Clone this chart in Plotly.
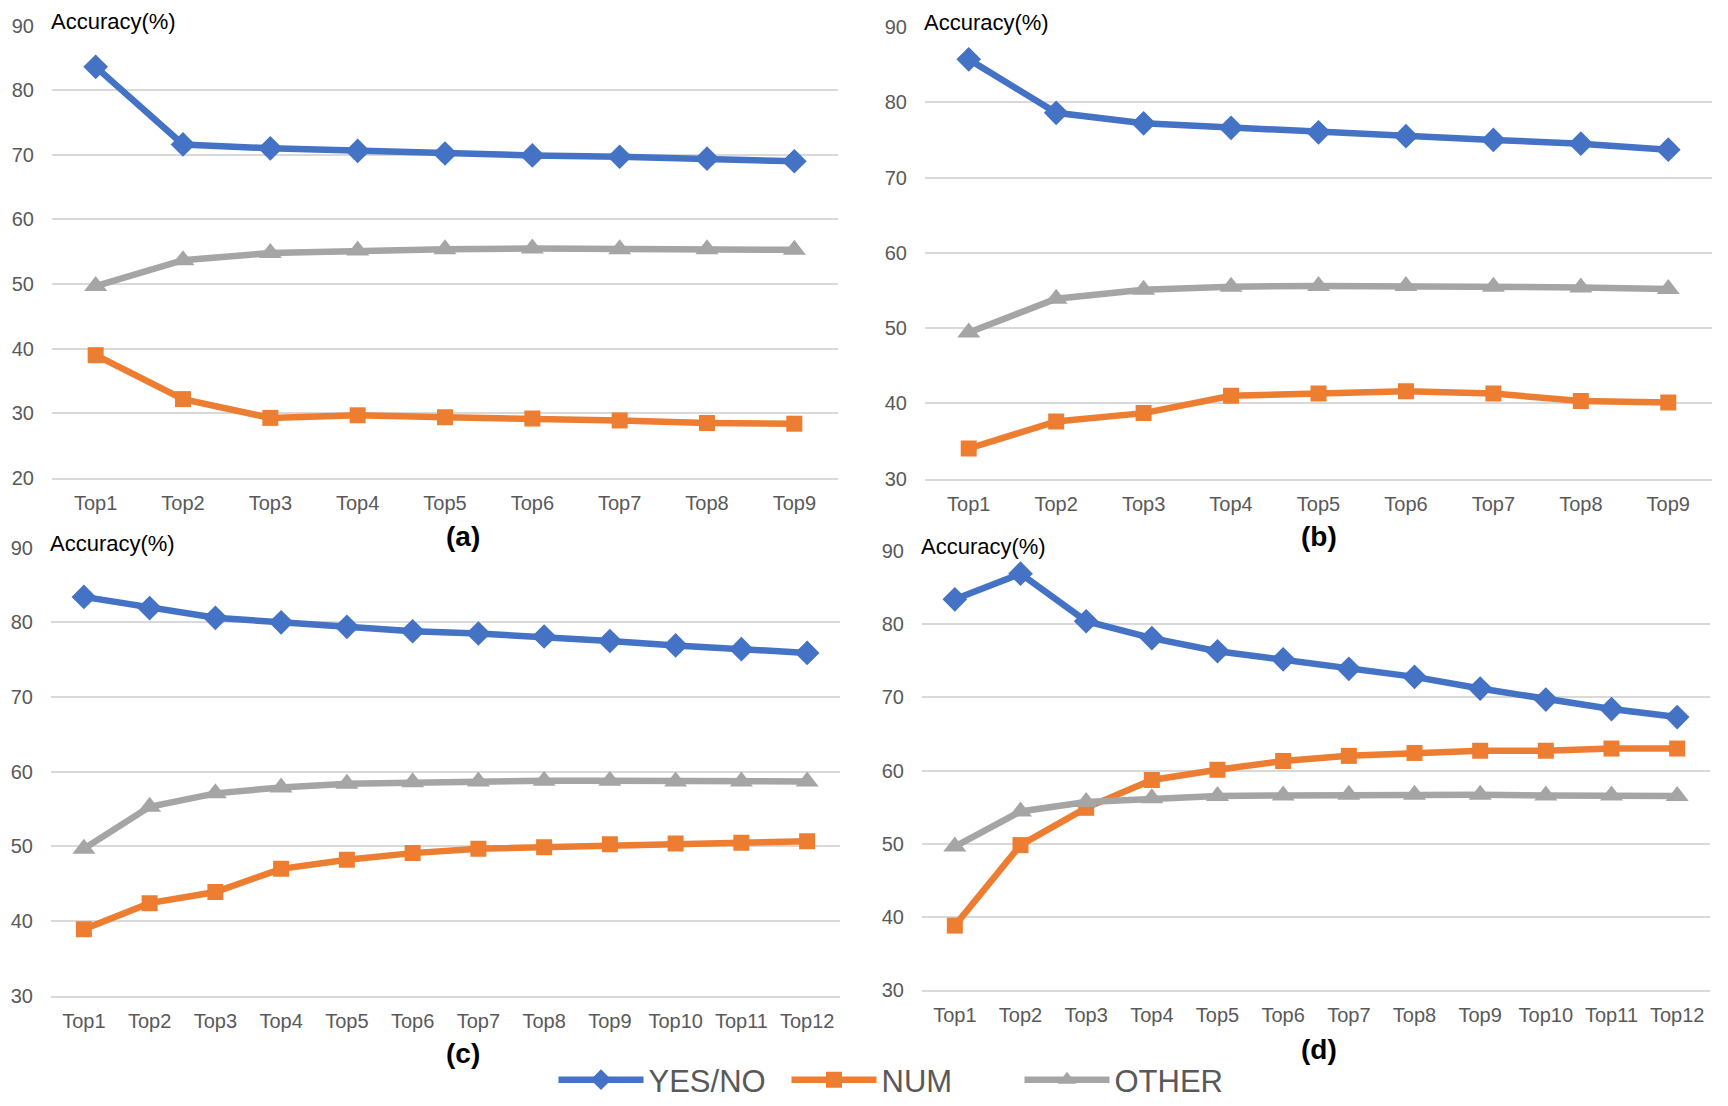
import plotly.graph_objects as go

W, H = 1728, 1106
OFF = 8  # page body margin offset

# ---- data ----
labels9 = ["Top1", "Top2", "Top3", "Top4", "Top5", "Top6", "Top7", "Top8", "Top9"]
labels12 = ["Top1", "Top2", "Top3", "Top4", "Top5", "Top6", "Top7", "Top8", "Top9",
            "Top10", "Top11", "Top12"]

a_yesno = [83.6, 71.6, 71.0, 70.6, 70.2, 69.9, 69.7, 69.4, 69.0]
a_num = [39.0, 32.2, 29.3, 29.7, 29.4, 29.2, 28.9, 28.5, 28.4]
a_other = [49.7, 53.7, 54.8, 55.2, 55.4, 55.5, 55.4, 55.4, 55.3]

b_yesno = [85.7, 78.6, 77.2, 76.6, 76.0, 75.5, 75.0, 74.5, 73.7]
b_num = [34.0, 37.6, 38.7, 41.0, 41.3, 41.6, 41.3, 40.3, 40.1]
b_other = [49.4, 53.9, 55.1, 55.5, 55.6, 55.6, 55.5, 55.4, 55.2]

c_yesno = [83.4, 81.9, 80.6, 80.0, 79.4, 78.8, 78.5, 78.1, 77.5, 76.9, 76.4, 75.9]
c_num = [38.9, 42.4, 43.9, 47.0, 48.2, 49.1, 49.7, 49.9, 50.3, 50.4, 50.5, 50.7]
c_other = [49.7, 55.3, 57.1, 57.9, 58.4, 58.6, 58.7, 58.8, 58.8, 58.7, 58.7, 58.7]

d_yesno = [83.4, 86.9, 80.4, 78.1, 76.3, 75.2, 73.9, 72.8, 71.2, 69.7, 68.4, 67.3]
d_num = [38.8, 49.8, 54.9, 58.7, 60.1, 61.3, 62.0, 62.4, 62.7, 62.7, 63.0, 63.0]
d_other = [49.6, 54.4, 55.7, 56.2, 56.5, 56.6, 56.7, 56.7, 56.7, 56.6, 56.6, 56.5]

series_names = ["YES/NO", "NUM", "OTHER"]
panel_names = ["(a)", "(b)", "(c)", "(d)"]
y_ranges = [[20, 90], [30, 90], [30, 90], [30, 90]]

# ---- styles ----
BLUE, ORANGE, GRAY = "#4472C4", "#ED7D31", "#A5A5A5"
styles = [
    dict(color=BLUE, symbol="diamond", size=19),
    dict(color=ORANGE, symbol="square", size=16),
    dict(color=GRAY, symbol="triangle-up", size=20),
]
FONT = "Liberation Sans, Arial, sans-serif"
TICKC = "#595959"
GRIDC = "#D9D9D9"

panels = [
    (labels9, [a_yesno, a_num, a_other]),
    (labels9, [b_yesno, b_num, b_other]),
    (labels12, [c_yesno, c_num, c_other]),
    (labels12, [d_yesno, d_num, d_other]),
]

# target page-pixel geometry of plot areas: (x0, x1, ytop, ybottom)
geom = [
    (52, 838, 25.5, 478),
    (925, 1712, 27, 478.6),
    (51, 840, 547.6, 995.8),
    (922, 1710, 551, 990),
]
label_pos = [(463, 537), (1319, 537), (463, 1053), (1319, 1049)]


def px(x):
    return (x - OFF) / W


def py(y):
    return 1 - (y - OFF) / H


fig = go.Figure()
for p, (cats, ser) in enumerate(panels):
    sfx = "" if p == 0 else str(p + 1)
    for s, vals in enumerate(ser):
        st = styles[s]
        fig.add_trace(go.Scatter(
            x=cats, y=vals, mode="lines+markers", name=series_names[s],
            line=dict(color=st["color"], width=6.5),
            marker=dict(color=st["color"], symbol=st["symbol"], size=st["size"]),
            xaxis="x" + sfx, yaxis="y" + sfx,
            showlegend=(p == 0), legendgroup=series_names[s],
        ))

layout = dict(
    width=W, height=H,
    margin=dict(l=0, r=0, t=0, b=0, autoexpand=False),
    paper_bgcolor="white", plot_bgcolor="white",
    font=dict(family=FONT, color=TICKC),
    showlegend=True,
    legend=dict(orientation="h", x=px(903), xanchor="center",
                y=py(1080), yanchor="middle",
                font=dict(size=31, color=TICKC, family=FONT),
                itemwidth=85, entrywidth=133, entrywidthmode="pixels",
                bgcolor="rgba(0,0,0,0)"),
)

annotations = []
for p, (cats, ser) in enumerate(panels):
    sfx = "" if p == 0 else str(p + 1)
    x0, x1, yt, yb = geom[p]
    n = len(cats)
    layout["xaxis" + sfx] = dict(
        domain=[px(x0), px(x1)], anchor="y" + sfx, type="category",
        range=[-0.5, n - 0.5], showgrid=False, showline=True,
        linecolor=GRIDC, linewidth=2, ticks="", ticklabelstandoff=6,
        tickfont=dict(size=20, color=TICKC, family=FONT), fixedrange=True,
    )
    layout["yaxis" + sfx] = dict(
        domain=[py(yb), py(yt)], anchor="x" + sfx,
        range=y_ranges[p], dtick=10, showgrid=True, gridcolor=GRIDC,
        gridwidth=2, zeroline=False, showline=False, ticks="",
        ticklabelstandoff=17,
        tickfont=dict(size=20, color=TICKC, family=FONT), fixedrange=True,
    )
    # "Accuracy(%)" axis caption
    annotations.append(dict(
        text="Accuracy(%)", xref="paper", yref="paper",
        x=px(x0 - 3), y=py(yt - 4), xanchor="left", yanchor="middle",
        showarrow=False, font=dict(size=22, color="black", family=FONT),
    ))
    # panel label
    lx, ly = label_pos[p]
    annotations.append(dict(
        text="<b>" + panel_names[p] + "</b>", xref="paper", yref="paper",
        x=px(lx), y=py(ly),
        xanchor="center", yanchor="middle", showarrow=False,
        font=dict(size=28, color="black", family=FONT),
    ))

layout["annotations"] = annotations
fig.update_layout(**layout)
fig.write_html("out.html")
